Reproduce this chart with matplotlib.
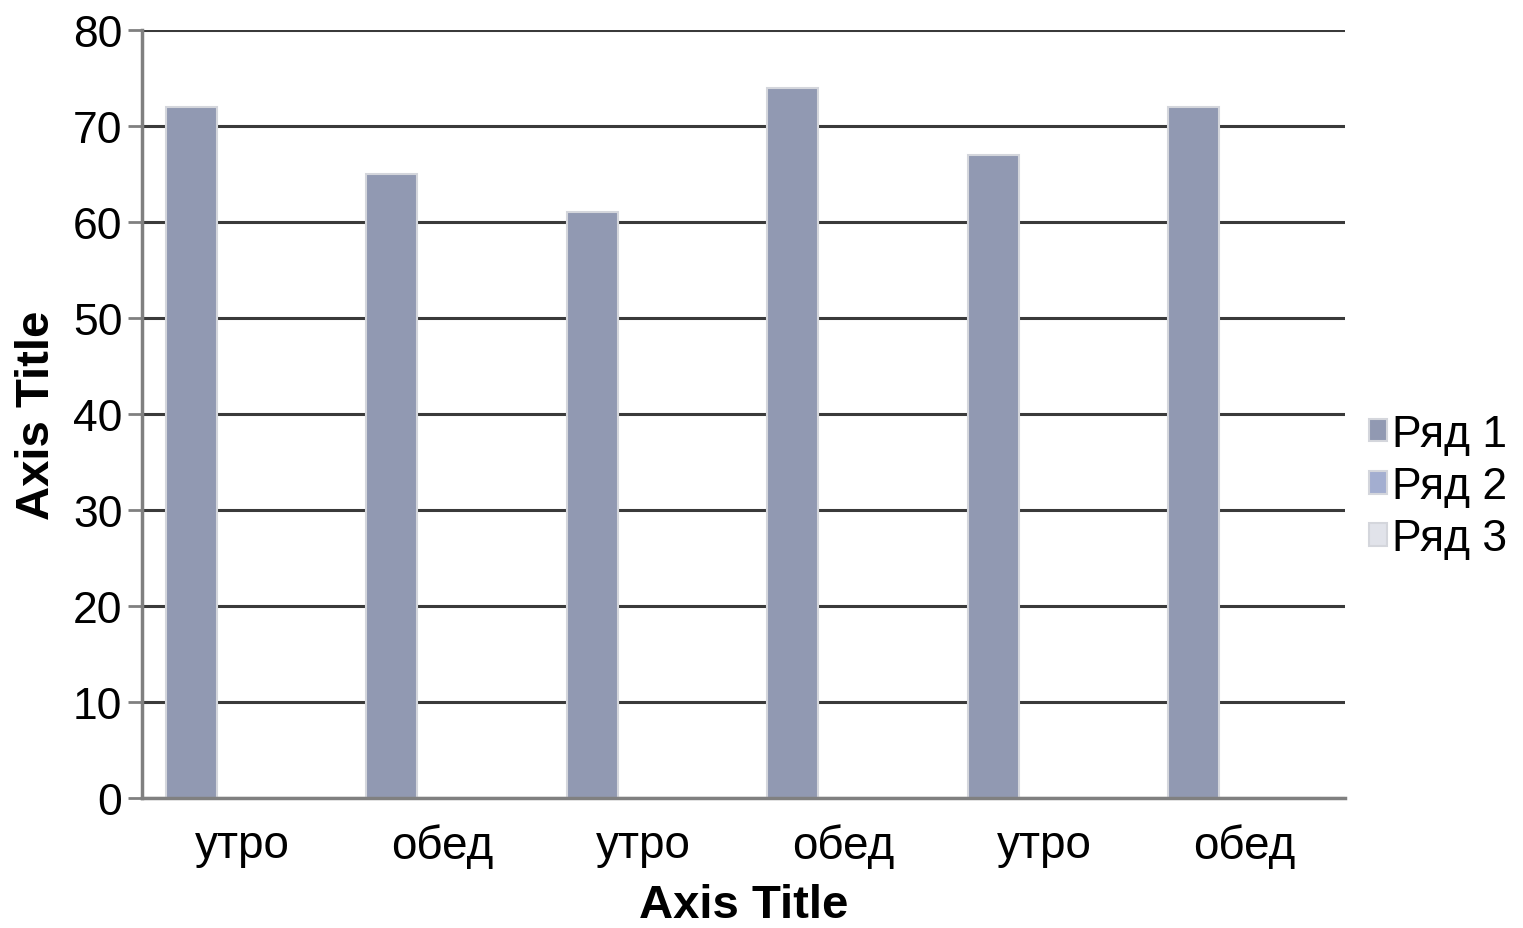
import matplotlib
matplotlib.use("Agg")
import matplotlib.pyplot as plt
import numpy as np

plt.rcParams['font.family'] = ['Liberation Sans', 'DejaVu Sans']

#-----------------------------------------------
# data
categories = ['утро', 'обед', 'утро', 'обед', 'утро', 'обед']
series_names = ['Ряд 1', 'Ряд 2', 'Ряд 3']
row1 = [72, 65, 61, 74, 67, 72]
row2 = [0, 0, 0, 0, 0, 0]
row3 = [0, 0, 0, 0, 0, 0]
y_ticks = [0, 10, 20, 30, 40, 50, 60, 70, 80]

colors = ['#9199b2', '#a3aed0', '#e1e3ea']
#-----------------------------------------------
fig = plt.figure(figsize=(15.23, 9.29), dpi=100)
ax = fig.add_axes([0.0932, 0.14, 0.7899, 0.8266])

x = np.arange(len(categories))
width = 0.255
for k, vals in enumerate([row1, row2, row3]):
    ax.bar(x + (k - 1) * width, vals, width, color=colors[k],
           edgecolor='#d4d6dc', linewidth=1.5, label=series_names[k], zorder=2)

ax.set_xlim(-0.5, len(categories) - 0.5)
ax.set_ylim(0, 80)
ax.set_yticks(y_ticks)
ax.set_xticks(x)
ax.set_xticklabels(categories)

ax.yaxis.grid(True, color='#3a3a3a', linewidth=2.2, zorder=1)
ax.set_axisbelow(True)
for s in ['top', 'right']:
    ax.spines[s].set_visible(False)
for s in ['left', 'bottom']:
    ax.spines[s].set_color('#808080')
    ax.spines[s].set_linewidth(2.5)
    ax.spines[s].set_zorder(4)

ax.tick_params(axis='y', length=10, width=2, color='#808080', labelsize=32, pad=4)
ax.tick_params(axis='x', length=0, labelsize=33, pad=18)

ax.set_xlabel('Axis Title', fontsize=34, fontweight='bold', labelpad=11)
ax.set_ylabel('Axis Title', fontsize=34, fontweight='bold', labelpad=10)

fig.legend(loc='center left', bbox_to_anchor=(0.899, 0.475), frameon=False,
           fontsize=32, handlelength=0.4, handleheight=0.4, handletextpad=0.12,
           labelspacing=0.25, borderaxespad=0, borderpad=0)

fig.savefig('out.png', dpi=100)
